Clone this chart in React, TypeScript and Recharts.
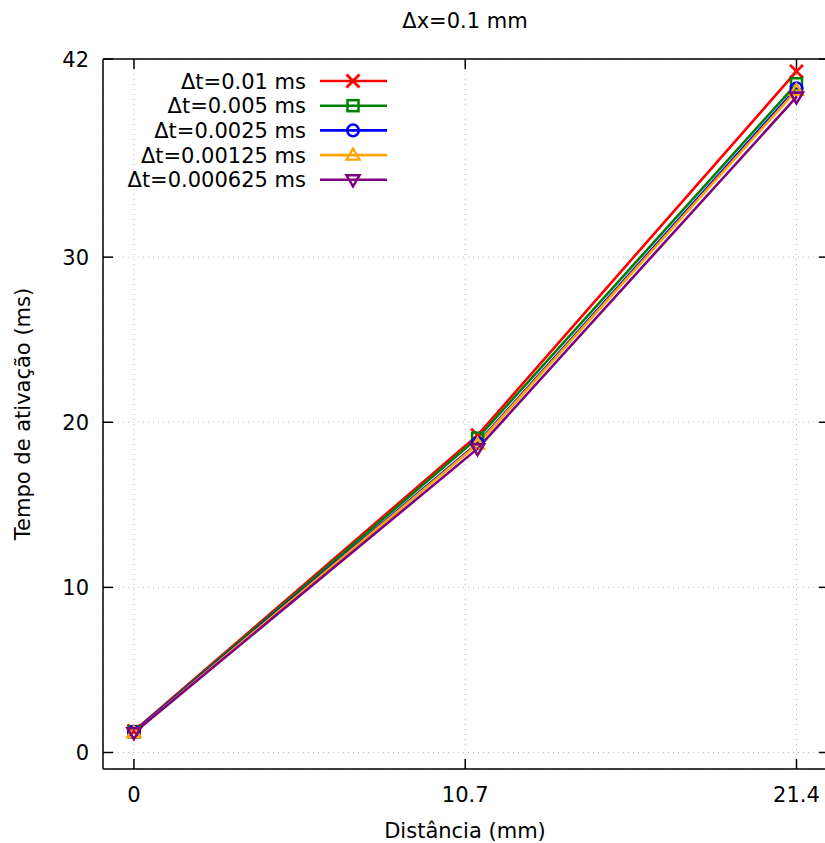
import { CartesianGrid, Legend, Line, LineChart, ReferenceLine, XAxis, YAxis } from "recharts";

const distances = [0, 11.1, 21.4];
const xTicks = [0, 10.7, 21.4];
const yTicks = [0, 10, 20, 30, 42];

const seriesNames = [
  "Δt=0.01 ms",
  "Δt=0.005 ms",
  "Δt=0.0025 ms",
  "Δt=0.00125 ms",
  "Δt=0.000625 ms",
];
const dt0100 = [1.3, 19.22, 41.25];
const dt0050 = [1.25, 19.04, 40.5];
const dt0025 = [1.25, 18.73, 40.22];
const dt00125 = [1.2, 18.67, 40.1];
const dt000625 = [1.2, 18.4, 39.7];

const colors = ["#ff0000", "#008000", "#0000ff", "#ffa500", "#800080"];
const shapes = ["cross", "square", "circle", "triangle", "nabla"];

const rows = distances.map((x, i) => ({
  x,
  s0: dt0100[i],
  s1: dt0050[i],
  s2: dt0025[i],
  s3: dt00125[i],
  s4: dt000625[i],
}));

const FONT = "DejaVu Sans, sans-serif";
const FS = 21;
const PLOT_TOP = 59;
const PLOT_BOTTOM = 769;
const PLOT_LEFT = 103;
const PLOT_RIGHT = 829;

function Marker({ shape, cx, cy, color }: { shape: string; cx: number; cy: number; color: string }) {
  const s = 6.5;
  const dot = <circle cx={cx} cy={cy} r={1.1} fill={color} />;
  if (shape === "cross") {
    return (
      <g stroke={color} strokeWidth={2.8}>
        <line x1={cx - s} y1={cy - s} x2={cx + s} y2={cy + s} />
        <line x1={cx - s} y1={cy + s} x2={cx + s} y2={cy - s} />
      </g>
    );
  }
  if (shape === "square") {
    return (
      <g>
        <rect x={cx - 5.5} y={cy - 5.5} width={11} height={11} fill="none" stroke={color} strokeWidth={2.5} />
        {dot}
      </g>
    );
  }
  if (shape === "circle") {
    return (
      <g>
        <circle cx={cx} cy={cy} r={5.8} fill="none" stroke={color} strokeWidth={2.5} />
        {dot}
      </g>
    );
  }
  if (shape === "triangle") {
    return (
      <g>
        <polygon
          points={`${cx},${cy - 6.5} ${cx + 6.5},${cy + 4.5} ${cx - 6.5},${cy + 4.5}`}
          fill="none"
          stroke={color}
          strokeWidth={2.3}
        />
        {dot}
      </g>
    );
  }
  return (
    <g>
      <polygon
        points={`${cx},${cy + 6.5} ${cx + 6.5},${cy - 4.5} ${cx - 6.5},${cy - 4.5}`}
        fill="none"
        stroke={color}
        strokeWidth={2.5}
      />
      {dot}
    </g>
  );
}

const makeDot = (idx: number) => (props: any) => {
  const { cx, cy, index } = props;
  if (cx == null || cy == null) return <g key={`d${idx}-${index}`} />;
  return (
    <g key={`d${idx}-${index}`}>
      <Marker shape={shapes[idx]} cx={cx} cy={cy} color={colors[idx]} />
    </g>
  );
};

const XTick = (props: any) => {
  const { x, payload } = props;
  return (
    <g>
      <line x1={x} x2={x} y1={PLOT_BOTTOM} y2={PLOT_BOTTOM - 10} stroke="#000" strokeWidth={1.5} />
      <line x1={x} x2={x} y1={PLOT_TOP} y2={PLOT_TOP + 10} stroke="#000" strokeWidth={1.5} />
      <text x={x} y={PLOT_BOTTOM + 33} textAnchor="middle" fontFamily={FONT} fontSize={FS} fill="#000">
        {payload.value}
      </text>
    </g>
  );
};

const YTick = (props: any) => {
  const { y, payload } = props;
  return (
    <g>
      <line x1={PLOT_LEFT} x2={PLOT_LEFT + 10} y1={y} y2={y} stroke="#000" strokeWidth={1.5} />
      <line x1={PLOT_RIGHT} x2={PLOT_RIGHT - 10} y1={y} y2={y} stroke="#000" strokeWidth={1.5} />
      <text x={PLOT_LEFT - 14} y={y + 7.5} textAnchor="end" fontFamily={FONT} fontSize={FS} fill="#000">
        {payload.value}
      </text>
    </g>
  );
};

const LegendBox = () => (
  <svg width={400} height={200} style={{ display: "block" }}>
    {seriesNames.map((name, i) => {
      const y = 81 + i * 24.7;
      return (
        <g key={name}>
          <text x={306} y={y + 7.5} textAnchor="end" fontFamily={FONT} fontSize={FS} fill="#000">
            {name}
          </text>
          <line x1={320} x2={387} y1={y} y2={y} stroke={colors[i]} strokeWidth={2.6} />
          <Marker shape={shapes[i]} cx={353} cy={y} color={colors[i]} />
        </g>
      );
    })}
  </svg>
);

export default function App() {
  return (
    <div style={{ position: "absolute", left: 0, top: 0, width: 825, height: 843, overflow: "hidden", background: "#fff" }}>
      <LineChart width={829} height={843} data={rows} margin={{ top: PLOT_TOP, right: 0, left: 0, bottom: 0 }}>
        <CartesianGrid stroke="#bbbbbb" strokeDasharray="1 4" />
        <XAxis
          dataKey="x"
          type="number"
          domain={[-1, 22.45]}
          ticks={xTicks}
          interval={0}
          height={74}
          tickLine={false}
          tick={<XTick />}
          axisLine={{ stroke: "#000", strokeWidth: 1.5 }}
          allowDataOverflow
        />
        <YAxis
          type="number"
          domain={[-1, 42]}
          ticks={yTicks}
          interval={0}
          width={103}
          tickLine={false}
          tick={<YTick />}
          axisLine={{ stroke: "#000", strokeWidth: 1.5 }}
          allowDataOverflow
        />
        <ReferenceLine y={42} stroke="#000" strokeWidth={1.5} />
        <ReferenceLine x={22.45} stroke="#000" strokeWidth={1.5} />
        {seriesNames.map((name, i) => (
          <Line
            key={name}
            name={name}
            dataKey={`s${i}`}
            stroke={colors[i]}
            strokeWidth={2.6}
            dot={makeDot(i)}
            activeDot={false}
            isAnimationActive={false}
          />
        ))}
        <Legend
          layout="vertical"
          align="center"
          verticalAlign="middle"
          content={<LegendBox />}
          wrapperStyle={{ position: "absolute", left: 0, top: 0, width: 400, height: 200 }}
        />
      </LineChart>
      <svg width={825} height={843} style={{ position: "absolute", left: 0, top: 0, pointerEvents: "none" }}>
        <text x={465} y={28} textAnchor="middle" fontFamily={FONT} fontSize={FS} fill="#000">
          Δx=0.1 mm
        </text>
        <text x={465} y={838} textAnchor="middle" fontFamily={FONT} fontSize={FS} fill="#000">
          Distância (mm)
        </text>
        <text
          x={0}
          y={0}
          transform="translate(30,414) rotate(-90)"
          textAnchor="middle"
          fontFamily={FONT}
          fontSize={FS}
          fill="#000"
        >
          Tempo de ativação (ms)
        </text>
      </svg>
    </div>
  );
}
